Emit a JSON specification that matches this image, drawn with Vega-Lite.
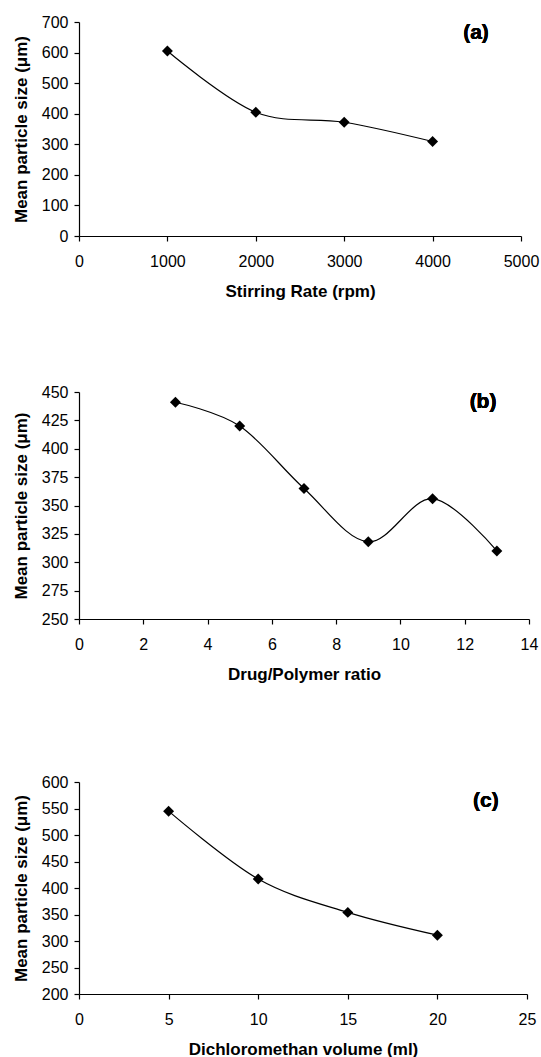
{
  "$schema": "https://vega.github.io/schema/vega-lite/v6.json",
  "padding": {"left": 12, "top": 14, "right": 2, "bottom": 5},
  "background": "white",
  "bounds": "flush",
  "spacing": 156,
  "config": {
    "font": "Liberation Sans",
    "view": {"stroke": null},
    "axis": {
      "grid": false,
      "format": "d",
      "labelFont": "Liberation Sans",
      "labelFontSize": 16,
      "labelColor": "#000",
      "titleFont": "Liberation Sans",
      "titleFontSize": 17,
      "titleFontWeight": "bold",
      "titleColor": "#000",
      "domainColor": "#000",
      "domainWidth": 1.2,
      "tickColor": "#000",
      "tickSize": 5,
      "tickWidth": 1.2
    },
    "axisX": {"labelPadding": 12, "titlePadding": 14, "labelFlush": false, "labelOverlap": false},
    "axisY": {"labelPadding": 6, "titlePadding": 11}
  },
  "vconcat": [
    {
      "width": 442,
      "height": 214,
      "data": {"values": [
        {"rate": 1000, "size": 605},
        {"rate": 2000, "size": 405},
        {"rate": 3000, "size": 372},
        {"rate": 4000, "size": 309}
      ]},
      "encoding": {
        "x": {"field": "rate", "type": "quantitative", "scale": {"domain": [0, 5000], "nice": false}, "axis": {"values": [0, 1000, 2000, 3000, 4000, 5000], "format": "d", "title": "Stirring Rate (rpm)"}},
        "y": {"field": "size", "type": "quantitative", "scale": {"domain": [0, 700], "nice": false}, "axis": {"values": [0, 100, 200, 300, 400, 500, 600, 700], "format": "d", "title": "Mean particle size (μm)"}}
      },
      "layer": [
        {"mark": {"type": "line", "interpolate": "cardinal", "color": "#000", "strokeWidth": 1.2}},
        {"mark": {"type": "point", "shape": "diamond", "filled": true, "color": "#000", "opacity": 1, "size": 120}},
        {"mark": {"type": "text", "text": "(a)", "fontWeight": "bold", "fontSize": 21, "color": "#000"},
         "encoding": {"x": {"datum": 4491}, "y": {"datum": 665}}}
      ]
    },
    {
      "bounds": "flush",
      "spacing": 163,
      "vconcat": [
        {
          "width": 450,
          "height": 227,
          "data": {"values": [
            {"ratio": 3, "size": 441},
            {"ratio": 5, "size": 420},
            {"ratio": 7, "size": 365},
            {"ratio": 9, "size": 318},
            {"ratio": 11, "size": 356},
            {"ratio": 13, "size": 310}
          ]},
          "encoding": {
            "x": {"field": "ratio", "type": "quantitative", "scale": {"domain": [0, 14], "nice": false}, "axis": {"values": [0, 2, 4, 6, 8, 10, 12, 14], "format": "d", "title": "Drug/Polymer ratio"}},
            "y": {"field": "size", "type": "quantitative", "scale": {"domain": [250, 450], "nice": false, "zero": false}, "axis": {"values": [250, 275, 300, 325, 350, 375, 400, 425, 450], "format": "d", "title": "Mean particle size (μm)"}}
          },
          "layer": [
            {"mark": {"type": "line", "interpolate": "cardinal", "color": "#000", "strokeWidth": 1.2}},
            {"mark": {"type": "point", "shape": "diamond", "filled": true, "color": "#000", "opacity": 1, "size": 120}},
            {"mark": {"type": "text", "text": "(b)", "fontWeight": "bold", "fontSize": 21, "color": "#000"},
             "encoding": {"x": {"datum": 12.57}, "y": {"datum": 441}}}
          ]
        },
        {
          "width": 448,
          "height": 212,
          "data": {"values": [
            {"volume": 5, "size": 545},
            {"volume": 10, "size": 417},
            {"volume": 15, "size": 354},
            {"volume": 20, "size": 311}
          ]},
          "encoding": {
            "x": {"field": "volume", "type": "quantitative", "scale": {"domain": [0, 25], "nice": false}, "axis": {"values": [0, 5, 10, 15, 20, 25], "format": "d", "title": "Dichloromethan volume (ml)"}},
            "y": {"field": "size", "type": "quantitative", "scale": {"domain": [200, 600], "nice": false, "zero": false}, "axis": {"values": [200, 250, 300, 350, 400, 450, 500, 550, 600], "format": "d", "title": "Mean particle size (μm)"}}
          },
          "layer": [
            {"mark": {"type": "line", "interpolate": "cardinal", "color": "#000", "strokeWidth": 1.2}},
            {"mark": {"type": "point", "shape": "diamond", "filled": true, "color": "#000", "opacity": 1, "size": 120}},
            {"mark": {"type": "text", "text": "(c)", "fontWeight": "bold", "fontSize": 21, "color": "#000"},
             "encoding": {"x": {"datum": 22.7}, "y": {"datum": 564}}}
          ]
        }
      ]
    }
  ]
}
